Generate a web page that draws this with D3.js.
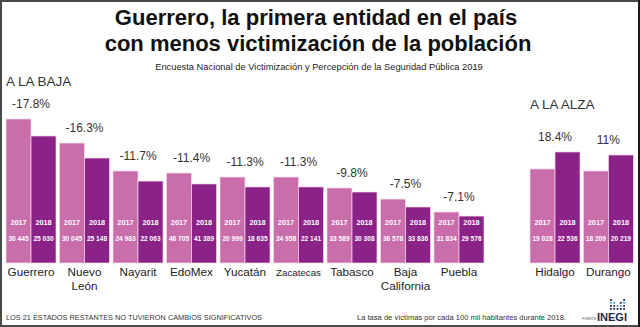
<!DOCTYPE html>
<html>
<head>
<meta charset="utf-8">
<script src="https://cdn.jsdelivr.net/npm/d3@7"></script>
<style>
  body { margin: 0; background: #fff; }
  svg { display: block; font-family: "Liberation Sans", Arial, sans-serif; }
</style>
</head>
<body>
<svg id="chart" width="640" height="327"></svg>
<script>
// estados que bajaron / subieron
var estadosBaja = ["Guerrero", "Nuevo León", "Nayarit", "EdoMex", "Yucatán", "Zacatecas", "Tabasco", "Baja California", "Puebla"]
var estadosAlza = ["Hidalgo", "Durango"]
var estados = estadosBaja.concat(estadosAlza)

// variacion porcentual 2017-2018
var cambio = [-17.8, -16.3, -11.7, -11.4, -11.3, -11.3, -9.8, -7.5, -7.1, 18.4, 11]

// tasa de victimas por cada 100 mil habitantes
var victimas2017 = [30445, 30045, 24983, 46705, 20999, 24958, 33589, 36578, 31834, 19028, 18209]
var victimas2018 = [25030, 25148, 22063, 41389, 18635, 22141, 30308, 33836, 29576, 22536, 20219]

// altura de las barras tal como aparece en la grafica (indice, Guerrero 2017 = 100)
var barra2017 = [100, 83.3, 63.9, 62.5, 59.7, 59.7, 52.1, 44.4, 35.4, 65.3, 63.9]
var barra2018 = [88.2, 72.9, 56.9, 54.9, 52.8, 52.8, 49.3, 38.9, 32.6, 77.1, 75]

var anios = ["2017", "2018"]
var colors = ["#c96dab", "#8b2287"]

var W = 640, H = 327
var svg = d3.select("#chart")
var fmt = function(v){ return d3.format(",")(v).replace(/,/g, " ") }
var fmtPct = function(v){ return String(v).replace("-", "-") + "%" }

var rows = estados.map(function(e, i){
  return {estado: e, cambio: cambio[i], v: [victimas2017[i], victimas2018[i]], h: [barra2017[i], barra2018[i]]}
})

// marco
svg.append("rect")
  .attr("x", 1).attr("y", 1).attr("width", W - 2).attr("height", H - 2)
  .attr("fill", "none").attr("stroke", "#4a4a4a").attr("stroke-width", 2)
svg.append("line").attr("x1", W - 1).attr("x2", W - 1).attr("y1", 0).attr("y2", H)
  .attr("stroke", "#1a1a1a").attr("stroke-width", 2)

// titulos
svg.append("text").attr("x", 316).attr("y", 25).attr("text-anchor", "middle")
  .style("font-size", "22px").style("font-weight", "bold").attr("fill", "#111")
  .text("Guerrero, la primera entidad en el país")
svg.append("text").attr("x", 318).attr("y", 51).attr("text-anchor", "middle")
  .style("font-size", "22px").style("font-weight", "bold").attr("fill", "#111")
  .text("con menos victimización de la población")
svg.append("text").attr("x", 319).attr("y", 70).attr("text-anchor", "middle")
  .style("font-size", "9.3px").attr("fill", "#222")
  .text("Encuesta Nacional de Victimización y Percepción de la Seguridad Pública 2019")

svg.append("text").attr("x", 6).attr("y", 86)
  .style("font-size", "13.5px").attr("fill", "#333").text("A LA BAJA")
svg.append("text").attr("x", 530).attr("y", 109)
  .style("font-size", "13.5px").attr("fill", "#333").text("A LA ALZA")

// escalas
var xBaja = d3.scaleBand().domain(estadosBaja).range([6, 484]).paddingInner(0.065).paddingOuter(0)
var xAlza = d3.scaleBand().domain(estadosAlza).range([530, 633.3]).paddingInner(0.065).paddingOuter(0)
var x0 = function(e){ return estadosBaja.indexOf(e) >= 0 ? xBaja(e) : xAlza(e) }
var bw = xBaja.bandwidth()
var x1 = d3.scaleBand().domain(anios).range([0, bw])
var y = d3.scaleLinear().domain([0, 100]).range([263, 119])

var group = svg.selectAll("g.estado")
  .data(rows)
  .enter().append("g")
  .attr("class", "estado")
  .attr("transform", function(d){ return "translate(" + x0(d.estado) + ",0)" })

var bars = group.selectAll("g.barra")
  .data(function(d){ return anios.map(function(a, j){ return {anio: a, v: d.v[j], h: d.h[j], j: j} }) })
  .enter().append("g")
  .attr("class", "barra")

bars.append("rect")
  .attr("x", function(d){ return x1(d.anio) })
  .attr("y", function(d){ return y(d.h) })
  .attr("width", x1.bandwidth())
  .attr("height", function(d){ return y(0) - y(d.h) })
  .attr("fill", function(d){ return colors[d.j] })
  .attr("stroke", "#f3d9ea").attr("stroke-width", 0.7)

bars.append("text")
  .attr("x", function(d){ return x1(d.anio) + x1.bandwidth() / 2 })
  .attr("y", 225)
  .attr("text-anchor", "middle")
  .style("font-size", "7.3px").style("font-weight", "bold").attr("fill", "#fff")
  .text(function(d){ return d.anio })

bars.append("text")
  .attr("x", function(d){ return x1(d.anio) + x1.bandwidth() / 2 })
  .attr("y", 241)
  .attr("text-anchor", "middle")
  .style("font-size", "6.6px").style("font-weight", "bold").attr("fill", "#fff")
  .text(function(d){ return fmt(d.v) })

// variacion sobre cada grupo
group.append("text")
  .attr("x", bw / 2)
  .attr("y", function(d){ return y(d3.max(d.h)) - 11 })
  .attr("text-anchor", "middle")
  .style("font-size", "12px").attr("fill", "#333")
  .text(function(d){ return fmtPct(d.cambio) })

// nombre del estado
var lbl = group.append("text")
  .attr("x", bw / 2)
  .attr("y", 276)
  .attr("text-anchor", "middle")
  .style("font-size", "11.7px").attr("fill", "#222")

lbl.each(function(d){
  var words = d.estado.split(" ")
  var t = d3.select(this)
  words.forEach(function(w, i){
    t.append("tspan").attr("x", bw / 2).attr("dy", i == 0 ? 0 : 14).text(w)
  })
  var len = this.getComputedTextLength()
  if (words.length == 1 && len > bw) {
    t.style("font-size", (11.7 * 45 / len) + "px")
  }
})

// pie
svg.append("text").attr("x", 6).attr("y", 320)
  .style("font-size", "7.2px").attr("fill", "#333")
  .attr("textLength", 256).attr("lengthAdjust", "spacingAndGlyphs")
  .text("LOS 21 ESTADOS RESTANTES NO TUVIERON CAMBIOS SIGNIFICATIVOS")
svg.append("text").attr("x", 357).attr("y", 320)
  .style("font-size", "7.4px").attr("fill", "#333")
  .attr("textLength", 209).attr("lengthAdjust", "spacingAndGlyphs")
  .text("La tasa de víctimas por cada 100 mil habitantes durante 2018.")
svg.append("text").attr("x", 582).attr("y", 320)
  .style("font-size", "3.5px").attr("fill", "#555").text("FUENTE:")
svg.append("text").attr("x", 597).attr("y", 321)
  .style("font-size", "11px").style("font-weight", "bold").attr("fill", "#1c2b4f")
  .attr("textLength", 30).attr("lengthAdjust", "spacingAndGlyphs")
  .text("INEGI")

// puntos del logo
var dots = [[0,0],[0,1],[0,2],[0,3],[1,1],[1,2],[1,3],[2,2],[2,3],[3,1],[3,2],[3,3],[4,0],[4,1],[4,2],[4,3]]
svg.append("g").attr("transform", "translate(610,299)")
  .selectAll("rect").data(dots).enter().append("rect")
  .attr("x", function(d){ return d[0] * 3.3 })
  .attr("y", function(d){ return d[1] * 3 })
  .attr("width", 1.8).attr("height", 1.8)
  .attr("fill", function(d, i){ return i % 3 == 1 ? "#4f9ad6" : "#1c2b4f" })
</script>
</body>
</html>
